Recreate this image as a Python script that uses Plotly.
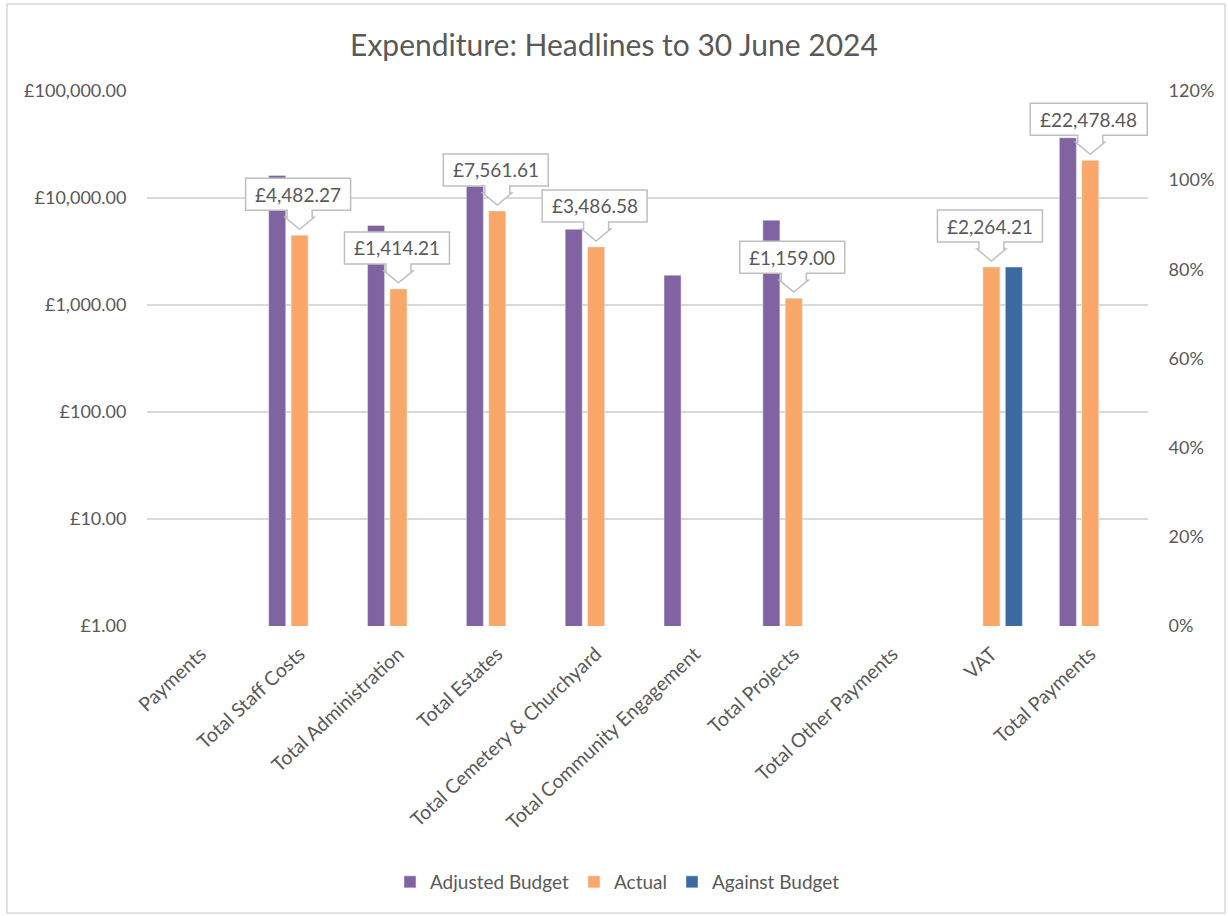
import plotly.graph_objects as go
import math

categories = ["Payments", "Total Staff Costs", "Total Administration", "Total Estates",
              "Total Cemetery & Churchyard", "Total Community Engagement", "Total Projects",
              "Total Other Payments", "VAT", "Total Payments"]
adjusted_budget = [None, 16250, 5530, 12900, 5100, 1900, 6200, None, None, 36500]
actual = [None, 4482.27, 1414.21, 7561.61, 3486.58, None, 1159.00, None, 2264.21, 22478.48]
against_budget = [None, None, None, None, None, None, None, None, 2264.21, None]

left_tickvals = [1, 10, 100, 1000, 10000, 100000]
left_ticktext = ["£1.00", "£10.00", "£100.00", "£1,000.00", "£10,000.00", "£100,000.00"]
right_tickvals = [0, 0.2, 0.4, 0.6, 0.8, 1.0, 1.2]

PURPLE = "#8064A2"
ORANGE = "#F9A86A"
BLUE = "#3B6AA0"
TEXT = "#595959"
GRID = "#D9D9D9"
FONT = "Lato"

W, H = 1228, 916
L, R, T, B = 147, 80, 91, 290

fig = go.Figure()
fig.add_trace(go.Bar(name="Adjusted Budget", x=categories, y=adjusted_budget, marker_color=PURPLE))
fig.add_trace(go.Bar(name="Actual", x=categories, y=actual, marker_color=ORANGE))
fig.add_trace(go.Bar(name="Against Budget", x=categories, y=against_budget, marker_color=BLUE))
fig.add_trace(go.Scatter(x=categories, y=[None] * len(categories), yaxis="y2",
                         showlegend=False, hoverinfo="skip", mode="markers"))

shapes = []
annotations = []
for cat, val in zip(categories, actual):
    if val is None:
        continue
    label = "£{:,.2f}".format(val)
    n = len(label)
    hw = (12.0 * n - 3) / 2.0
    bb, bt = 25, 57
    path = ("M {l},{bb} L -12.5,{bb} L -12.5,18 L -14.5,18 L 0,6 L 14.5,18 L 12.5,18 "
            "L 12.5,{bb} L {r},{bb} L {r},{bt} L {l},{bt} Z").format(l=-hw - 1.5, r=hw - 1.5,
                                                                      bb=bb, bt=bt)
    shapes.append(dict(type="path", xref="x", yref="y", xsizemode="pixel", ysizemode="pixel",
                       xanchor=cat, yanchor=val, path=path, fillcolor="white",
                       line=dict(color="#BFBFBF", width=1.5), layer="above"))
    annotations.append(dict(x=cat, y=math.log10(val), xref="x", yref="y", text=label,
                            showarrow=False, yshift=(bb + bt) / 2.0, xshift=-1.5,
                            yanchor="middle", xanchor="center",
                            font=dict(family=FONT, size=19, color=TEXT)))

# outer chart border
pw, ph = W - L - R, H - T - B
shapes.append(dict(type="rect", xref="paper", yref="paper",
                   x0=(7 - L) / pw, x1=(1225 - L) / pw,
                   y0=(H - B - 913) / ph, y1=(H - B - 4) / ph,
                   line=dict(color=GRID, width=1.5), fillcolor="rgba(0,0,0,0)", layer="below"))

fig.update_layout(
    width=W, height=H,
    margin=dict(l=L, r=R, t=T, b=B),
    paper_bgcolor="white", plot_bgcolor="white",
    title=dict(text="Expenditure: Headlines to 30 June 2024", x=0.5, xanchor="center",
               y=1 - 45 / H, yanchor="middle", xref="container", yref="container",
               font=dict(family=FONT, size=30, color=TEXT)),
    barmode="group", bargap=0.32, bargroupgap=0.24,
    font=dict(family=FONT, size=18, color=TEXT),
    xaxis=dict(type="category", tickangle=-43, showgrid=False, showline=False,
               tickfont=dict(family=FONT, size=19.5, color=TEXT),
               ticks="outside", ticklen=8, tickcolor="rgba(0,0,0,0)"),
    yaxis=dict(type="log", range=[0, 5], tickvals=left_tickvals, ticktext=left_ticktext,
               showgrid=True, gridcolor=GRID, gridwidth=1.5, showline=False, zeroline=False,
               ticks="outside", ticklen=16, tickcolor="rgba(0,0,0,0)",
               tickfont=dict(family=FONT, size=18, color=TEXT)),
    yaxis2=dict(overlaying="y", side="right", range=[0, 1.2], tickvals=right_tickvals,
                tickformat=".0%", showgrid=False, zeroline=False, showline=False,
                ticks="outside", ticklen=16, tickcolor="rgba(0,0,0,0)",
                tickfont=dict(family=FONT, size=18, color=TEXT)),
    legend=dict(orientation="h", x=0.470, xanchor="center", y=(H - B - 882) / ph,
                yanchor="middle", font=dict(family=FONT, size=19, color=TEXT),
                itemwidth=30, traceorder="normal"),
    shapes=shapes, annotations=annotations,
    showlegend=True,
)

fig.write_html("out.html")
